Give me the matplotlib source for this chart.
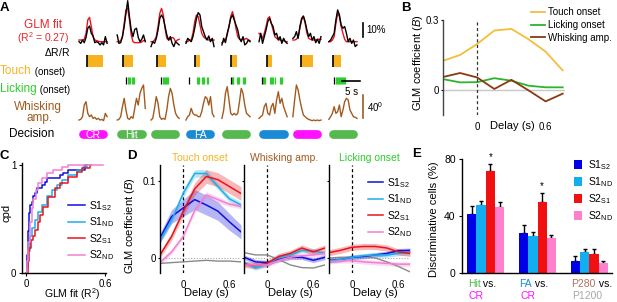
import numpy as np
import matplotlib
matplotlib.use('Agg')
import matplotlib.pyplot as plt
import matplotlib.transforms as mtransforms
from matplotlib.patches import Patch

plt.rcParams['font.family'] = ['Liberation Sans', 'DejaVu Sans']
plt.rcParams['mathtext.fontset'] = 'custom'
plt.rcParams['mathtext.rm'] = 'Liberation Sans'
plt.rcParams['mathtext.it'] = 'Liberation Sans:italic'
plt.rcParams['axes.linewidth'] = 1.0

# ---------------- data ----------------
# A: example neuron, 8 trials (time in s, 17 samples per trial)
trial_start = [0, 10.6, 20, 29.7, 39.7, 50, 59.4, 69.4]
t_grid = [0, 0.5, 1, 1.5, 2, 2.5, 3, 3.5, 4, 4.5, 5, 5.5, 6, 6.5, 7, 7.5, 8]
dff = [
    [0.2, -1, 1.4, -0.5, 3.3, 9.8, 11.4, 6.2, 4.3, -0.5, 0.2, -0.5, -2.1, -0.5, -2.1, 3.8, -1],
    [5, -1, -0.5, 3.8, 11, 20.5, 29.5, 18, 8.6, 3.8, 9, 9.8, 3.3, 0.2, 1.9, 5, 0.2],
    [-3.3, 0.2, -1, 2.6, 8.6, 16.9, 19.3, 16.9, 11, 5, 1.4, 3.8, -1, -3.3, 0.2, -1, -2.1],
    [-1, 2.6, 1.4, 0.2, 3.8, 9.8, 16.9, 21, 19.3, 11, 7.4, 3.8, 1.4, 4.3, 0.2, 2.6, -3.3],
    [-2.1, 2.6, -0.5, 6.2, 11, 16.9, 19.3, 15.7, 12.1, 8.6, 2.6, 0.2, 3.8, -2.1, -1, 1.4, 0.2],
    [0.2, 6.2, -1, 3.8, 8.6, 14.5, 16.9, 13.3, 11, 5, 6.2, 1.4, 3.8, -1, 2.6, 0.2, -1],
    [2.6, 3.8, 7.4, 2.6, 11, 16.9, 18.6, 14.5, 8.6, 3.8, 6.2, 1.4, 3.8, -0.5, 1.9, -1, 3.8],
    [0.2, 1.4, 3.8, 6.2, 15.7, 22.9, 19.3, 12.1, 9.8, 11, 6.2, 0.2, 2.6, -1, 1.4, -3.3, -2.1],
]
glm_fit = [
    [1.4, 1.4, 1.4, 1.9, 6.2, 15.7, 17.6, 11, 3.8, 1.4, 1, 0.5, 0.2, 0.2, 0.2, 0.2, 0.2],
    [0.2, 0.2, 1, 3.8, 13.3, 22.9, 24, 15.7, 5, 0.2, -0.5, -0.5, -0.5, -0.5, 0, 1, 1],
    [0.2, 0.2, 1.4, 3.8, 11, 20.5, 24, 19.3, 9.8, 2.6, 1.4, 1.9, 3.3, 2.6, 0.2, 1.4, 1.9],
    [0.2, 0.2, 1.4, 1.4, 6.2, 14.5, 19.3, 18.1, 12.1, 6.2, 3.8, 2.6, 1.9, 1.4, 1.4, 1.4, 1.4],
    [-0.5, 0.2, 1.4, 5, 11, 18.1, 21.7, 16.9, 9.8, 3.8, 1.9, 1.4, 2.6, 1.9, 2.6, 1.4, 1],
    [6.2, 5, 2.6, 6.2, 11, 16.9, 18.1, 13.3, 8.6, 3.8, 2.6, 1.9, 1.4, 1, 1, 0.2, 0.2],
    [1.4, 1.4, 1.9, 3.8, 9.8, 15.7, 18.1, 13.3, 6.2, 2.6, 1.9, 1.4, 1.4, 1.4, 1.9, 1.9, 1.9],
    [0.2, 0.2, 1.4, 3.8, 13.3, 20.5, 18.1, 11, 6.2, 1.9, 0.2, 0.2, 0.2, 0.2, 0.2, 0.2, 0.2],
]
whisk_amp = [
    [1.7, 2.9, 7.5, 27.8, 33.6, 13.3, 7.5, 10.4, 4.6, 6.4, 2.9, 4.6, 1.7, 2.9, 0.6, 13.3, 7.5],
    [1.7, 2.9, 7.5, 24.9, 39.4, 19.1, 4.6, 2.9, 7.5, 4.6, 22, 39.4, 27.8, 48.1, 56.8, 62.6, 22],
    [1.7, 4.6, 22, 42.3, 30.7, 7.5, 2.9, 4.6, 2.9, 19.1, 42.3, 56.8, 48.1, 27.8, 13.3, 7.5, 4.6],
    [1.7, 7.5, 10.4, 22, 13.3, 10.4, 10.4, 7.5, 7.5, 16.2, 30.7, 42.3, 39.4, 27.8, 42.3, 13.3, 7.5],
    [4.6, 19.1, 48.1, 59.7, 36.5, 13.3, 10.4, 13.3, 10.4, 13.3, 33.6, 56.8, 48.1, 27.8, 13.3, 10.4, 7.5],
    [4.6, 7.5, 10.4, 24.9, 30.7, 13.3, 10.4, 24.9, 30.7, 13.3, 36.5, 51, 30.7, 39.4, 24.9, 16.2, 7.5],
    [7.5, 36.5, 62.6, 53.9, 36.5, 22, 10.4, 7.5, 4.6, 2.9, 1.7, 0.6, 1.7, 0.6, 1.7, 0.6, 1.7],
    [2.9, 7.5, 13.3, 24.9, 13.3, 16.2, 27.8, 7.5, 19.1, 33.6, 39.4, 36.5, 19.1, 13.3, 7.5, 6.4, 4.6],
]
touch_on = [2.2, 1.75, 1.7, 2.5, 2.5, 2.2, 2.2, 1.1]
touch_off = [6.7, 4.5, 4.2, 3.9, 4.2, 3.6, 5.6, 3.3]
lick_onset = [None, 2.5, 2.7, 0.9, 2.4, 0.74, None, 1.5]
lick_times = [
    [],
    [2.9, 3.2, 3.5, 4.0, 4.4, 4.7],
    [3.25, 3.5, 3.8, 4.1, 4.4, 4.8],
    [3.1, 3.4, 3.7, 4.4, 4.7, 5.0, 5.8, 6.1],
    [2.7, 3.0, 3.1, 4.25, 4.5, 4.8, 5.9, 6.2, 6.4],
    [1.2, 1.5, 1.7, 3.1, 3.4, 3.7, 4.0, 4.3, 5.8, 6.1, 6.3],
    [],
    [1.9, 2.2, 2.5, 2.8, 3.1, 3.4, 3.7, 4.0, 4.3, 4.6],
]
decisions = ['CR', 'Hit', 'Hit', 'FA', 'Hit', 'FA', 'CR', 'Hit']

# B: population GLM coefficients
delay = [-0.3, -0.15, 0, 0.15, 0.3, 0.45, 0.6, 0.75]
b_touch = [0.126, 0.151, 0.198, 0.255, 0.262, 0.218, 0.165, 0.085]
b_lick = [0.048, 0.034, 0.035, 0.052, 0.041, 0.02, 0.013, 0.013]
b_whisk = [0.057, 0.074, 0.055, 0.006, 0.045, 0.0, -0.047, -0.014]

# C: cumulative distributions of GLM fit (R^2), step knots
c_s1s2_x = [0, 0.005, 0.013, 0.023, 0.03, 0.043, 0.056, 0.068, 0.081, 0.119, 0.144, 0.157, 0.258, 0.284, 0.32, 0.448, 0.46]
c_s1s2_y = [0, 0.17, 0.385, 0.554, 0.63, 0.66, 0.71, 0.74, 0.785, 0.815, 0.846, 0.877, 0.908, 0.923, 0.954, 1.0, 1.0]
c_s1nd_x = [0, 0.005, 0.018, 0.03, 0.043, 0.068, 0.094, 0.119, 0.157, 0.195, 0.233, 0.27, 0.32, 0.385, 0.435, 0.46, 0.47]
c_s1nd_y = [0, 0.046, 0.2, 0.34, 0.415, 0.49, 0.57, 0.63, 0.71, 0.77, 0.815, 0.86, 0.908, 0.954, 0.985, 1.0, 1.0]
c_s2s1_x = [0, 0.013, 0.023, 0.035, 0.056, 0.068, 0.089, 0.106, 0.132, 0.17, 0.22, 0.258, 0.32, 0.385, 0.423, 0.486, 0.49]
c_s2s1_y = [0, 0.108, 0.23, 0.31, 0.34, 0.4, 0.477, 0.54, 0.615, 0.708, 0.785, 0.83, 0.89, 0.94, 0.975, 1.0, 1.0]
c_s2nd_x = [0, 0.008, 0.018, 0.03, 0.043, 0.056, 0.073, 0.094, 0.119, 0.157, 0.208, 0.27, 0.32, 0.587]
c_s2nd_y = [0, 0.108, 0.29, 0.477, 0.6, 0.69, 0.77, 0.83, 0.877, 0.923, 0.954, 0.985, 1.0, 1.0]

# D: GLM coefficients per area (order: S1_S2, S1_ND, S2_S1, S2_ND)
d_touch = [
    [0.026, 0.054, 0.065, 0.076, 0.069, 0.061, 0.047, 0.034],
    [0.023, 0.049, 0.084, 0.110, 0.110, 0.093, 0.077, 0.069],
    [0.004, 0.028, 0.060, 0.090, 0.106, 0.102, 0.093, 0.084],
    [-0.006, 0.008, 0.028, 0.062, 0.082, 0.076, 0.070, 0.067],
]
d_touch_sem = [
    [0.006, 0.009, 0.011, 0.013, 0.013, 0.012, 0.011, 0.009],
    [0.004, 0.004, 0.005, 0.005, 0.005, 0.004, 0.004, 0.004],
    [0.004, 0.005, 0.006, 0.008, 0.009, 0.009, 0.009, 0.009],
    [0.003, 0.003, 0.003, 0.004, 0.004, 0.004, 0.003, 0.003],
]
d_touch_ctrl = [-0.007, -0.006, -0.005, -0.004, -0.003, -0.004, -0.004, -0.005]
d_whisk = [
    [0.001, -0.005, -0.006, -0.002, 0.001, 0.001, -0.003, 0.001],
    [-0.006, -0.013, -0.008, 0.001, 0.004, 0.010, 0.009, 0.006],
    [-0.008, -0.010, -0.007, 0.002, 0.006, 0.013, 0.008, 0.013],
    [-0.009, -0.009, -0.009, -0.003, 0.001, 0.003, 0.004, 0.006],
]
d_whisk_ctrl = [0.007, 0.004, 0.004, -0.002, -0.009, -0.0125, -0.013, -0.009]
d_lick = [
    [-0.003, -0.002, 0.001, 0.002, 0.004, 0.006, 0.0095, 0.010],
    [-0.0035, -0.002, 0.001, 0.003, 0.004, 0.004, 0.006, 0.007],
    [0.007, 0.010, 0.014, 0.015, 0.015, 0.013, 0.008, 0.006],
    [-0.005, -0.0035, -0.0035, -0.005, -0.006, -0.007, -0.008, -0.008],
]
d_lick_ctrl = [0, 0.001, 0.001, 0.002, 0, -0.005, -0.011, -0.018]
d_small_sem = [0.003, 0.003, 0.004, 0.003]

# E: discriminative cells (%)
e_groups = [('Hit', 'CR'), ('FA', 'CR'), ('P280', 'P1200')]
e_mean = [
    [41.2, 28.3, 8.7],
    [47.7, 26.0, 15.0],
    [71.8, 50.0, 13.3],
    [46.5, 24.3, 6.8],
]
e_err = [
    [5.6, 5.4, 3.3],
    [3.0, 3.0, 2.1],
    [4.5, 5.8, 3.7],
    [3.0, 2.3, 1.9],
]
e_sig = [(0, 2), (1, 2)]

area_labels = [r'S1$_{\mathregular{S2}}$', r'S1$_{\mathregular{ND}}$',
               r'S2$_{\mathregular{S1}}$', r'S2$_{\mathregular{ND}}$']
area_colors = ['#1010e0', '#1eaee8', '#e8141c', '#f27fd2']
bar_colors = ['#0000e6', '#13aef0', '#f01010', '#ff80cf']

c_touch = '#f7b21e'
c_lick = '#2ccd2c'
c_whisk = '#a35a1e'
dec_colors = {'CR': '#ff10ff', 'Hit': '#55b94f', 'FA': '#1b8ad4'}

# ---------------- layout helpers ----------------
W, H = 617, 302
fig = plt.figure(figsize=(W / 100, H / 100), dpi=100)


def px_axes(l, t, r, b):
    return fig.add_axes([l / W, 1 - b / H, (r - l) / W, (b - t) / H])


def ftext(x, y, s, **kw):
    return fig.text(x / W, 1 - y / H, s, **kw)


def chain(prev, s, **kw):
    # put text s right after text prev, on the same baseline
    return plt.annotate(s, xy=(1, 0), xycoords=prev, va='bottom', ha='left', **kw)


for lab, x, y in [('A', 4, 8), ('B', 406, 8), ('C', 4, 156), ('D', 132, 156), ('E', 417, 154)]:
    ftext(x, y, lab, fontsize=9.5, fontweight='bold', ha='center', va='center')

# ---------------- A ----------------
xl = (-0.28, 83.6)
a_ca = px_axes(78, 0, 380, 47)
a_to = px_axes(78, 53, 380, 69)
a_li = px_axes(78, 74, 380, 86)
a_wh = px_axes(78, 82, 380, 124)
a_de = px_axes(78, 128, 380, 140)
for ax in (a_ca, a_to, a_li, a_wh, a_de):
    ax.set_xlim(*xl)
    ax.axis('off')
a_ca.set_ylim(-3.6, 30)
a_wh.set_ylim(-5.2, 67.8)
for ax in (a_to, a_li, a_de):
    ax.set_ylim(0, 1)

for i, s in enumerate(trial_start):
    tt = np.array(t_grid) * 0.975 + s
    a_ca.plot(tt, glm_fit[i], color='#e8141c', lw=1.0, clip_on=False)
    a_ca.plot(tt, dff[i], color='black', lw=1.0, clip_on=False)
    a_wh.plot(tt, whisk_amp[i], color=c_whisk, lw=1.0, clip_on=False)
    a_to.broken_barh([(s + touch_on[i], touch_off[i] - touch_on[i])], (0.12, 0.76),
                     facecolor=c_touch, edgecolor='none')
    a_to.vlines(s + touch_on[i], 0.12, 0.88, color='black', lw=1.2)
    if lick_times[i]:
        a_li.vlines(np.array(lick_times[i]) + s, 0.15, 0.75, color=c_lick, lw=0.9)
    if lick_onset[i] is not None:
        a_li.vlines(s + lick_onset[i], 0.15, 0.75, color='black', lw=0.9)
    a_de.plot([s + 1.2, s + 6.8], [0.5, 0.5], lw=6.3, color=dec_colors[decisions[i]],
              solid_capstyle='round')
shown = set()
for i, d in enumerate(decisions):
    if d not in shown:
        shown.add(d)
        a_de.text(trial_start[i] + 4, 0.5, d, color='white', fontsize=7.5,
                  ha='center', va='center_baseline')

# scale bars
a_ca.plot([78.9, 78.9], [3.5, 13.5], color='black', lw=1.2, clip_on=False)
a_ca.text(79.9, 8.5, '10%', fontsize=7, va='center', ha='left')
a_wh.plot([78.9, 78.9], [5, 45], color=c_whisk, lw=1.2, clip_on=False)
a_wh.text(79.9, 25, r'40$^{\mathregular{0}}$', fontsize=7, va='center', ha='left')
a_li.plot([73.1, 78.1], [0.42, 0.42], color='black', lw=1.2, clip_on=False)
a_li.text(75.6, -0.1, '5 s', fontsize=7, ha='center', va='top')

# row labels
ftext(43, 25, 'GLM fit', color='#e8262a', fontsize=8.5, ha='center', va='center')
ftext(43, 38, r'(R$^{\mathregular{2}}$ = 0.27)', color='#e8262a', fontsize=7.5, ha='center', va='center')
ftext(57, 52, r'$\Delta$R/R', color='black', fontsize=7.5, ha='center', va='center')
t1 = ftext(0, 74, 'Touch', color=c_touch, fontsize=8.5, ha='left', va='baseline')
chain(t1, ' (onset)', color='black', fontsize=7)
t2 = ftext(0, 92, 'Licking', color=c_lick, fontsize=8.5, ha='left', va='baseline')
chain(t2, ' (onset)', color='black', fontsize=7)
ftext(38, 107, 'Whisking', color=c_whisk, fontsize=8.5, ha='center', va='center')
ftext(40, 118, 'amp.', color=c_whisk, fontsize=8.5, ha='center', va='center')
ftext(32, 134, 'Decision', color='black', fontsize=8.5, ha='center', va='center')

# ---------------- B ----------------
axb = px_axes(443, 20, 565, 115)
axb.plot(delay, b_touch, color='#f3bf3a', lw=1.3, label='Touch onset')
axb.plot(delay, b_lick, color='#2ab52a', lw=1.3, label='Licking onset')
axb.plot(delay, b_whisk, color='#8a3a10', lw=1.3, label='Whisking amp.')
axb.axhline(0, color='#c8c8c8', lw=1.0, zorder=0)
axb.axvline(0, color='#333333', lw=0.9, ls=(0, (2.5, 2)))
axb.set_xlim(-0.3, 0.77)
axb.set_ylim(-0.105, 0.3)
axb.set_yticks([0, 0.3])
axb.set_yticklabels(['0', '0.3'])
axb.set_xticks([0, 0.6])
axb.set_xticklabels(['0', '0.6'])
for s in ('top', 'right', 'bottom'):
    axb.spines[s].set_visible(False)
axb.spines['left'].set_color('#444444')
axb.tick_params(axis='x', length=0, pad=5, labelsize=7)
axb.tick_params(axis='y', length=1.5, pad=1.5, labelsize=7)
axb.set_xlabel('Delay (s)', fontsize=8)
axb.xaxis.set_label_coords(0.57, -0.06)
axb.set_ylabel(r'GLM coefficient ($\mathit{B}$)', fontsize=8)
axb.yaxis.set_label_coords(-0.15, 0.55)
axb.legend(loc='upper left', bbox_to_anchor=(531 / W, 1 - 7 / H), bbox_transform=fig.transFigure,
           frameon=False, fontsize=7, handlelength=1.4, handletextpad=0.35,
           labelspacing=0.3, borderpad=0, borderaxespad=0)

# ---------------- C ----------------
axc = px_axes(22, 163, 106, 273)
for xs, ys, c, lab in [(c_s1s2_x, c_s1s2_y, area_colors[0], area_labels[0]),
                       (c_s1nd_x, c_s1nd_y, area_colors[1], area_labels[1]),
                       (c_s2s1_x, c_s2s1_y, area_colors[2], area_labels[2]),
                       (c_s2nd_x, c_s2nd_y, area_colors[3], area_labels[3])]:
    axc.plot(xs, ys, drawstyle='steps-post', color=c, lw=1.1, label=lab)
axc.set_xlim(-0.03, 0.607)
axc.set_ylim(0, 1.02)
axc.set_xticks([0, 0.6])
axc.set_xticklabels(['0', '0.6'])
axc.set_yticks([0, 1])
axc.set_yticklabels(['0', '1'])
for s in ('top', 'right'):
    axc.spines[s].set_visible(False)
axc.tick_params(length=2, pad=2, labelsize=7)
axc.set_xlabel(r'GLM fit (R$^{\mathregular{2}}$)', fontsize=7.5)
axc.xaxis.set_label_coords(0.6, -0.12)
axc.set_ylabel('cpd', fontsize=8)
axc.yaxis.set_label_coords(-0.12, 0.55)
axc.legend(loc='upper left', bbox_to_anchor=(68 / W, 1 - 199 / H), bbox_transform=fig.transFigure,
           frameon=False, fontsize=7.5, handlelength=1.6, handletextpad=0.4,
           labelspacing=0.25, borderpad=0, borderaxespad=0)

# ---------------- D ----------------
d_axes = [px_axes(160, 165, 241, 273), px_axes(244, 165, 325, 273), px_axes(329, 165, 410, 273)]
d_sets = [(d_touch, d_touch_sem, d_touch_ctrl), (d_whisk, None, d_whisk_ctrl), (d_lick, None, d_lick_ctrl)]
d_titles = [('Touch onset', c_touch, 200), ('Whisking amp.', c_whisk, 284), ('Licking onset', c_lick, 369)]
for k, ax in enumerate(d_axes):
    means, sems, ctrl = d_sets[k]
    ax.axhline(0, color='#aaaaaa', lw=0.8, ls=(0, (1, 1.5)), zorder=0)
    ax.axvline(0, color='black', lw=0.9, ls=(0, (2.5, 2)), zorder=0)
    ax.plot(delay, ctrl, color='#8a8a8a', lw=1.0)
    for j in range(4):
        m = np.array(means[j])
        e = np.array(sems[j]) if sems is not None else d_small_sem[j]
        ax.fill_between(delay, m - e, m + e, color=area_colors[j], alpha=0.3, lw=0)
        ax.plot(delay, m, color=area_colors[j], lw=1.1, label=area_labels[j])
    ax.set_xlim(-0.3, 0.75)
    ax.set_ylim(-0.0195, 0.121)
    ax.set_xticks([0, 0.6])
    ax.set_xticklabels(['0', '0.6'])
    ax.set_yticks([0, 0.1])
    for s in ('top', 'right', 'bottom'):
        ax.spines[s].set_visible(False)
    ax.tick_params(axis='x', length=0, pad=5, labelsize=7)
    ax.tick_params(axis='y', length=1.5, pad=1.5, labelsize=7)
    if k > 0:
        ax.set_yticklabels([])
    else:
        ax.set_yticklabels(['0', '0.1'])
        ax.set_ylabel(r'GLM coefficient ($\mathit{B}$)', fontsize=8)
        ax.yaxis.set_label_coords(-0.28, 0.44)
    ax.set_xlabel('Delay (s)', fontsize=8)
    ax.xaxis.set_label_coords(0.57, -0.14)
    name, col, cx = d_titles[k]
    ftext(cx, 158, name, color=col, fontsize=7.5, ha='center', va='center')
d_axes[2].legend(loc='upper left', bbox_to_anchor=(368 / W, 1 - 176 / H), bbox_transform=fig.transFigure,
                 frameon=False, fontsize=7.5, handlelength=1.4, handletextpad=0.4,
                 labelspacing=0.25, borderpad=0, borderaxespad=0)

# ---------------- E ----------------
axe = px_axes(462, 159, 612, 273)
gx = np.arange(len(e_groups))
bw = 0.18
for j in range(4):
    xs = gx + (j - 1.5) * bw
    axe.bar(xs, e_mean[j], width=bw, color=bar_colors[j], label=area_labels[j], zorder=2)
    axe.errorbar(xs, e_mean[j], yerr=[np.zeros(3), e_err[j]], fmt='none', ecolor='black',
                 elinewidth=1.0, capsize=1.2, capthick=1.0, zorder=1)
for g, j in e_sig:
    axe.text(g + (j - 1.5) * bw, e_mean[j][g] + e_err[j][g] + 1.5, '*', ha='center', va='bottom', fontsize=7)
axe.set_xlim(-0.46, 2.44)
axe.set_ylim(0, 80)
axe.set_yticks([0, 40, 80])
axe.set_xticks([])
for s in ('top', 'right'):
    axe.spines[s].set_visible(False)
axe.tick_params(length=2.5, pad=2, labelsize=7.5)
axe.set_ylabel('Discriminative cells (%)', fontsize=8)
axe.yaxis.set_label_coords(-0.153, 0.47)
first_col = ['#4cbb47', '#1b8ad4', '#b56f5f']
second_col = ['#ff10ff', '#ff10ff', '#a8a8a8']
blend = mtransforms.blended_transform_factory(axe.transData, axe.transAxes)
for g, (a, b) in enumerate(e_groups):
    ta = axe.text(g - 0.35, -0.12, a, color=first_col[g], fontsize=7.5, transform=blend, ha='left', va='baseline')
    axe.annotate(' vs.', xy=(1, 0), xycoords=ta, va='bottom', ha='left', fontsize=7.5, color='black')
    axe.text(g - 0.33, -0.225, b, color=second_col[g], fontsize=7.5, transform=blend, ha='left', va='baseline')
handles = [Patch(facecolor=c) for c in bar_colors]
axe.legend(handles, area_labels, loc='upper left', bbox_to_anchor=(574 / W, 1 - 158 / H),
           bbox_transform=fig.transFigure, frameon=False, fontsize=7.5, handlelength=0.8,
           handleheight=0.9, handletextpad=0.5, labelspacing=0.3, borderpad=0, borderaxespad=0)

fig.savefig('out.png', dpi=100)
